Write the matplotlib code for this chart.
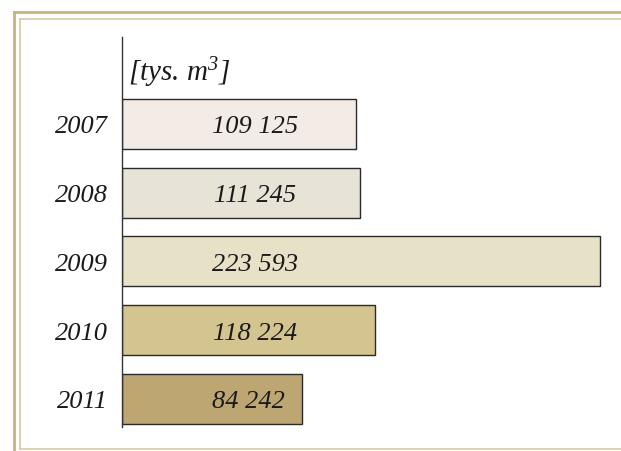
import matplotlib
matplotlib.use("Agg")
import matplotlib.pyplot as plt
from matplotlib.lines import Line2D

years = ["2007", "2008", "2009", "2010", "2011"]
values = [109125, 111245, 223593, 118224, 84242]
value_labels = ["109 125", "111 245", "223 593", "118 224", "84 242"]
colors = ["#f3ebe5", "#e7e4d7", "#e7e1c7", "#d4c48f", "#bea673"]
unit = "[tys. m$^3$]"

W, H = 621, 452
fig = plt.figure(figsize=(W / 100, H / 100), dpi=100)
plt.rcParams['font.family'] = ['Liberation Serif', 'DejaVu Serif']
plt.rcParams['mathtext.fontset'] = 'custom'
plt.rcParams['mathtext.rm'] = 'Liberation Serif:italic'
plt.rcParams['mathtext.it'] = 'Liberation Serif:italic'

# decorative frame
def fx(p): return p / W
def fy(p): return 1 - p / H
frame_outer = "#c9b27c"
frame_inner = "#d9ca9e"
fig.add_artist(Line2D([fx(14), fx(14)], [fy(13), 0], color=frame_outer, lw=2.0))
fig.add_artist(Line2D([fx(14), 1], [fy(13), fy(13)], color=frame_outer, lw=2.0))
fig.add_artist(Line2D([fx(20), fx(20)], [fy(20), fy(450)], color=frame_inner, lw=1.2))
fig.add_artist(Line2D([fx(20), 1], [fy(20), fy(20)], color=frame_inner, lw=1.2))
fig.add_artist(Line2D([fx(20), 1], [fy(450), fy(450)], color=frame_inner, lw=1.2))

ax_left, ax_right, ax_top, ax_bot = 122, 621, 38, 428
ax = fig.add_axes([fx(ax_left), fy(ax_bot), (ax_right - ax_left) / W, (ax_bot - ax_top) / H])
ypos = list(range(len(years)))
ax.barh(ypos, values, height=0.727, color=colors, edgecolor="#2a2a2a", linewidth=1.0, zorder=2)
ax.set_xlim(0, 233200)
ax.set_ylim(4.41, -1.265)
for s in ["top", "right", "bottom"]:
    ax.spines[s].set_visible(False)
ax.spines["left"].set_color("#333333")
ax.spines["left"].set_linewidth(1.0)
ax.set_xticks([])
ax.set_yticks(ypos)
ax.set_yticklabels(years, fontsize=19, style="italic", color="#1a1a1a", va="center_baseline")
ax.tick_params(axis="y", length=0, pad=10)
ax.patch.set_alpha(0)

for i, lab in enumerate(value_labels):
    xx = 0.267 if i < 4 else 0.253
    ax.text(xx, i, lab, transform=ax.get_yaxis_transform(), ha="center", va="center_baseline",
            fontsize=19, style="italic", color="#1a1a1a", zorder=3)

ax.text(0.012, -0.82, unit, transform=ax.get_yaxis_transform(), ha="left", va="center_baseline",
        fontsize=21, style="italic", color="#1a1a1a")

fig.savefig("out.png", dpi=100)
